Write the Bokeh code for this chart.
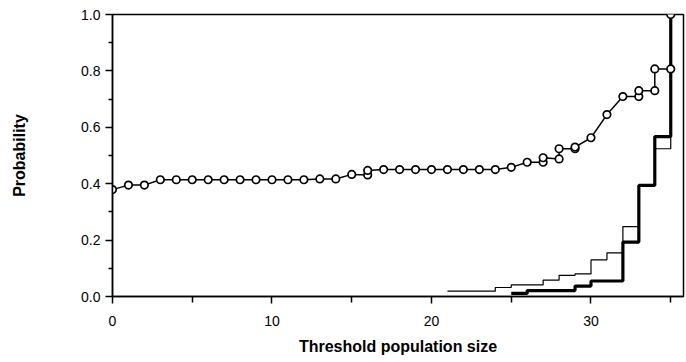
from bokeh.plotting import figure
from bokeh.models import Range1d, FixedTicker, ColumnDataSource, PrintfTickFormatter
from bokeh.embed import file_html
from bokeh.resources import INLINE

# Circle series (repeated x where two values are plotted at the same size)
circle_x = [0, 1, 2, 3, 4, 5, 6, 7, 8, 9, 10, 11, 12, 13, 14, 15, 16, 16, 17, 18, 19, 20, 21, 22, 23, 24,
            25, 26, 27, 27, 28, 28, 29, 29, 30, 31, 32, 33, 33, 34, 34, 35, 35]
circle_y = [0.379, 0.395, 0.395, 0.414, 0.414, 0.414, 0.414, 0.414, 0.414, 0.414, 0.414, 0.414, 0.414,
            0.417, 0.417, 0.433, 0.431, 0.447, 0.450, 0.450, 0.450, 0.450, 0.450, 0.450, 0.450, 0.450,
            0.458, 0.476, 0.476, 0.492, 0.488, 0.524, 0.524, 0.530, 0.563, 0.645, 0.709, 0.709, 0.730,
            0.730, 0.807, 0.807, 1.0]

# Thin step series
thin_x = [21, 24, 25, 27, 28, 29, 30, 31, 32, 33, 34, 35]
thin_y = [0.019, 0.032, 0.041, 0.058, 0.075, 0.080, 0.130, 0.155, 0.248, 0.394, 0.524, 1.0]

# Thick step series
thick_x = [25, 26, 29, 30, 32, 33, 34, 35]
thick_y = [0.011, 0.021, 0.037, 0.055, 0.193, 0.394, 0.567, 1.0]

x_major = [0, 10, 20, 30]
x_minor = [5, 15, 25, 35]
y_major = [0.0, 0.2, 0.4, 0.6, 0.8, 1.0]
y_minor = [0.1, 0.3, 0.5, 0.7, 0.9]

FONT = "Liberation Sans"

p = figure(width=686, height=362, output_backend="svg", toolbar_location=None,
           x_range=Range1d(0, 35.8), y_range=Range1d(0, 1.0),
           min_border_left=112, min_border_right=3, min_border_top=14, min_border_bottom=66)
p.grid.visible = False
p.outline_line_color = "black"
p.outline_line_width = 1.5
p.background_fill_color = "white"
p.border_fill_color = "white"

p.step(thin_x, thin_y, mode="after", line_color="black", line_width=1.2)
p.step(thick_x, thick_y, mode="after", line_color="black", line_width=3.2)

src = ColumnDataSource(dict(x=circle_x, y=circle_y))
p.line("x", "y", source=src, line_color="black", line_width=1.5)
p.scatter("x", "y", source=src, size=7.5, marker="circle", fill_color="white",
          line_color="black", line_width=1.7)

xa = p.xaxis[0]
xa.ticker = FixedTicker(ticks=x_major, minor_ticks=x_minor)
xa.axis_label = "Threshold population size"
xa.axis_label_text_font = FONT
xa.axis_label_text_font_style = "bold"
xa.axis_label_text_font_size = "16px"
xa.axis_label_text_color = "black"
xa.axis_label_standoff = 9
xa.major_label_text_font = FONT
xa.major_label_text_font_size = "14px"
xa.major_label_text_color = "black"
xa.major_label_standoff = 12
xa.major_tick_out = 7
xa.major_tick_in = 0
xa.minor_tick_out = 6
xa.minor_tick_in = 0
xa.axis_line_width = 1.5
xa.axis_line_color = "black"
xa.major_tick_line_width = 1.5
xa.minor_tick_line_width = 1.5

ya = p.yaxis[0]
ya.ticker = FixedTicker(ticks=y_major, minor_ticks=y_minor)
ya.formatter = PrintfTickFormatter(format="%.1f")
ya.axis_label = "Probability"
ya.axis_label_text_font = FONT
ya.axis_label_text_font_style = "bold"
ya.axis_label_text_font_size = "16px"
ya.axis_label_text_color = "black"
ya.axis_label_standoff = 50
ya.major_label_text_font = FONT
ya.major_label_text_font_size = "14px"
ya.major_label_text_color = "black"
ya.major_label_standoff = 5
ya.major_tick_out = 7
ya.major_tick_in = 0
ya.minor_tick_out = 4
ya.minor_tick_in = 0
ya.axis_line_width = 1.5
ya.axis_line_color = "black"
ya.major_tick_line_width = 1.5
ya.minor_tick_line_width = 1.5

open("out.html", "w").write(file_html(p, INLINE))
